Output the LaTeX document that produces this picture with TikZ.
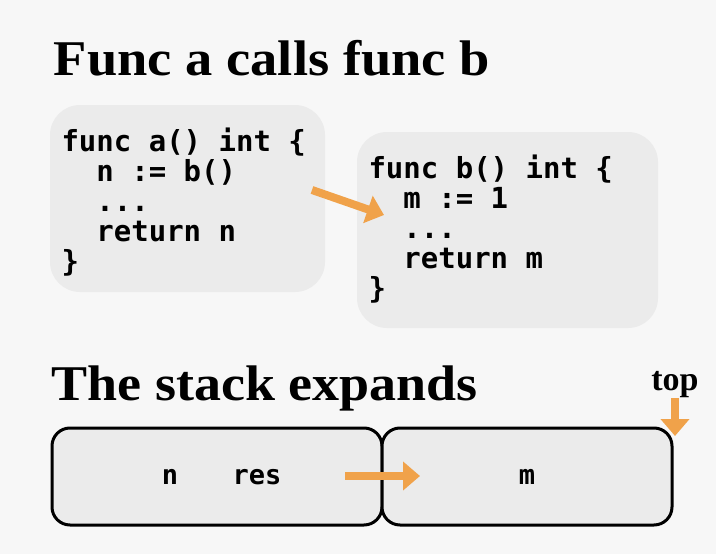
\documentclass[tikz,border=0pt]{standalone}
\usepackage{fontspec}
\setmainfont{Liberation Serif}
\setmonofont{DejaVu Sans Mono}
\usetikzlibrary{arrows.meta}
\definecolor{bg}{HTML}{F7F7F7}
\definecolor{boxc}{HTML}{EBEBEB}
\definecolor{org}{HTML}{F0A24A}
\tikzset{
 codetxt/.style={anchor=north west,align=left,font=\fontsize{29}{30}\selectfont\ttfamily\bfseries},
 title/.style={anchor=base west,font=\fontsize{50}{54}\selectfont\bfseries},
 frame/.style={draw=black,line width=3pt,fill=boxc,rounded corners=18pt},
 oarrow/.style={org,line width=8pt,-{Triangle[length=17pt,width=28pt]}},
 lab/.style={font=\fontsize{27}{30}\selectfont\ttfamily\bfseries,anchor=base}
}
\begin{document}
\begin{tikzpicture}[x=1pt,y=-1pt]
\fill[bg] (0,0) rectangle (716,554);
\useasboundingbox (0,0) rectangle (716,554);
\node[title,xscale=1.09] (t1) at (50,75) {Func a calls func b};
\fill[boxc,rounded corners=30pt] (50,105) rectangle (325,292);
\node[codetxt] (ca) at (58,124) {func a() int \{\\\ \ n := b()\\\ \ ...\\\ \ return n\\\}};
\fill[boxc,rounded corners=30pt] (357,132) rectangle (658,328);
\node[codetxt] (cb) at (365,151) {func b() int \{\\\ \ m := 1\\\ \ ...\\\ \ return m\\\}};
\coordinate (a1) at (312,190);
\coordinate (a2) at (384,215);
\draw[oarrow] (a1) -- (a2);
\node[title,xscale=1.08] (t2) at (48,400) {The stack expands};
\node[anchor=base,font=\fontsize{34}{36}\selectfont\bfseries] (top) at (675,390) {top};
\draw[frame] (52,428) rectangle (382,525);
\draw[frame] (382,428) rectangle (672,525);
\node[lab] (n) at (170,484) {n};
\node[lab] (res) at (257,484) {res};
\node[lab] (m) at (527,484) {m};
\coordinate (s1) at (345,476);
\coordinate (s2) at (420,476);
\draw[oarrow] (s1) -- (s2);
\coordinate (tp) at (675,436);
\draw[oarrow] (675,398) -- (tp);
\end{tikzpicture}
\end{document}
